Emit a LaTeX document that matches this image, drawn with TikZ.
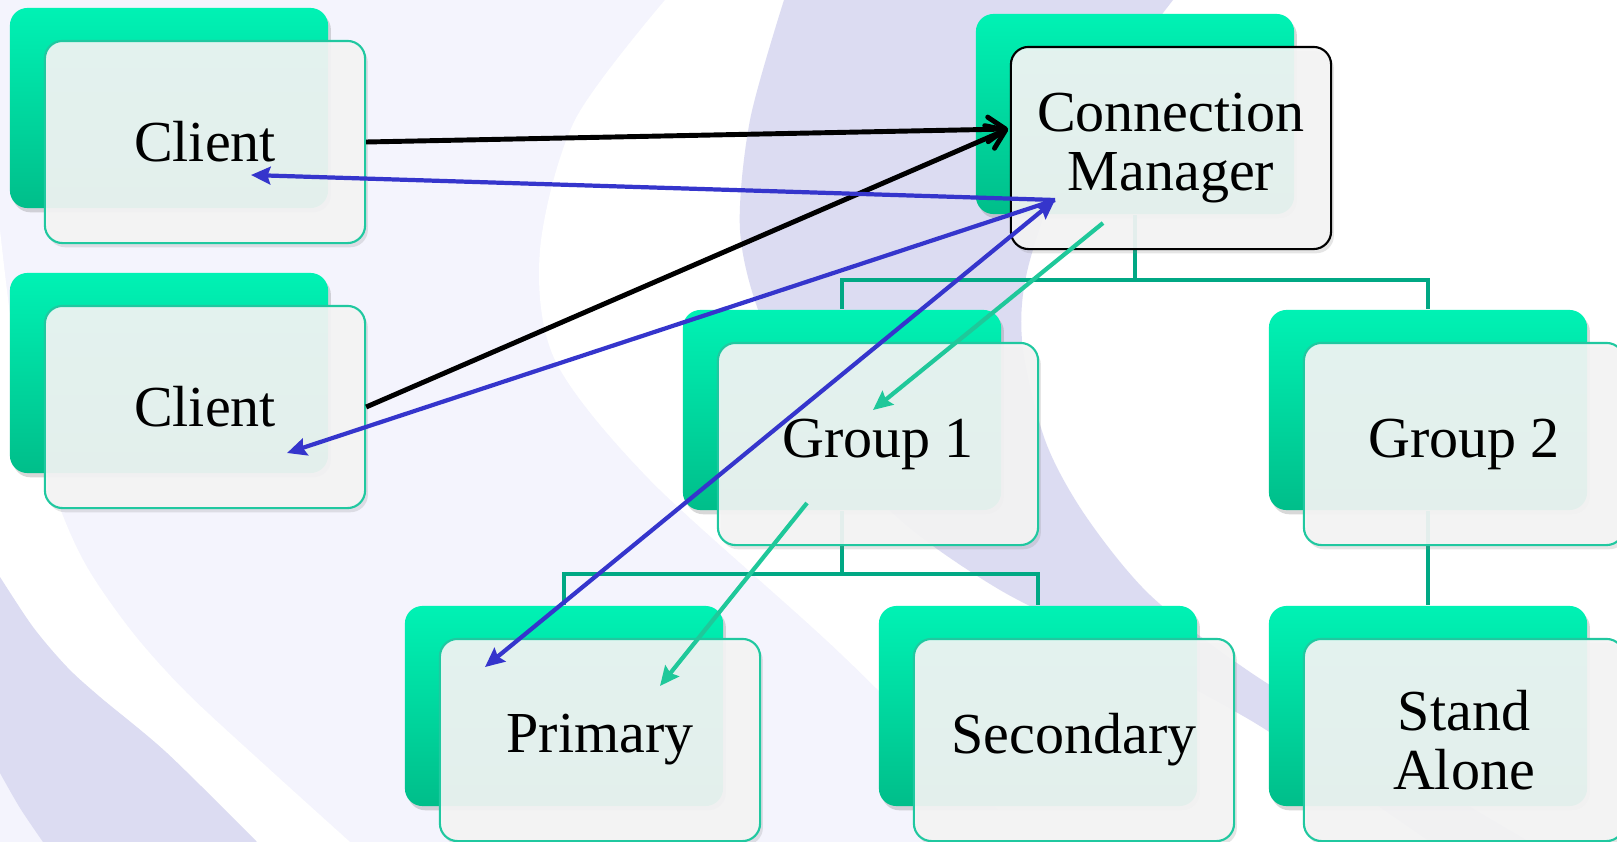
\documentclass[tikz,border=0pt]{standalone}
\usepackage{fontspec}
\setmainfont{Liberation Serif}
\usetikzlibrary{arrows.meta,shadows}

\definecolor{bglight}{HTML}{F4F4FD}
\definecolor{bgdark}{HTML}{DCDCF2}
\definecolor{mintTop}{HTML}{00F2B4}
\definecolor{mintBot}{HTML}{00BE8A}
\definecolor{cardfill}{HTML}{F5F5F5}
\definecolor{cardedge}{HTML}{20C8A0}
\definecolor{treecol}{HTML}{00A884}
\definecolor{arrblue}{HTML}{3535CC}
\definecolor{arrgreen}{HTML}{1FC89A}

\tikzset{
  cardback/.style={rounded corners=5pt, minimum width=3.18cm, minimum height=2.0cm,
    top color=mintTop, bottom color=mintBot, draw=none,
    drop shadow={shadow xshift=0.8pt, shadow yshift=-1.2pt, opacity=0.3}},
  card/.style={rounded corners=5pt, minimum width=3.2cm, minimum height=2.02cm,
    draw=cardedge, line width=0.6pt, fill=cardfill, fill opacity=0.92, text opacity=1,
    align=center, font=\fontsize{16.5}{16.8}\selectfont,
    drop shadow={shadow xshift=0.8pt, shadow yshift=-1.2pt, opacity=0.2}},
  treeline/.style={draw=treecol, line width=1.1pt},
  blkarr/.style={line width=1.4pt, -{Straight Barb[length=5pt,width=7pt,round]}},
  bluarr/.style={draw=arrblue, line width=1.2pt, -{Stealth[length=5.5pt,width=5pt,inset=0.8pt]}},
  grnarr/.style={draw=arrgreen, line width=1.2pt, -{Stealth[length=5.5pt,width=5pt,inset=0.8pt]}}
}

\begin{document}
\begin{tikzpicture}[x=0.01cm, y=-0.01cm]
  \useasboundingbox (0,0) rectangle (1617,842);
  % background swooshes
  \fill[bglight] (0,0) rectangle (1617,842);
  \fill[white] plot[smooth] coordinates {(665,0) (575,120) (540,250) (555,360) (650,480) (840,653) (1030,842)}
    -- (1617,842) -- (1617,0) -- cycle;
  \fill[bgdark] plot[smooth] coordinates {(784,0) (750,120) (740,230) (762,320) (820,430) (900,520) (1000,590) (1120,650) (1250,720) (1340,780) (1430,842)}
    -- plot[smooth] coordinates {(1530,842) (1400,765) (1250,672) (1150,595) (1085,515) (1045,440) (1022,340) (1030,260) (1080,130) (1173,0)} -- cycle;
  \fill[white] plot[smooth] coordinates {(0,230) (20,380) (57,500) (87,567) (133,633) (187,693) (267,767) (350,842)}
    -- plot[smooth] coordinates {(257,842) (167,753) (100,697) (67,667) (33,627) (0,577)} -- cycle;
  \fill[bgdark] plot[smooth] coordinates {(0,577) (33,627) (67,667) (100,697) (167,753) (257,842)}
    -- plot[smooth] coordinates {(43,842) (20,808) (0,773)} -- cycle;

  % green backs
  \node[cardback] (cl1b) at (169,108) {};
  \node[cardback] (cl2b) at (169,373) {};
  \node[cardback] (cmb) at (1135,114) {};
  \node[cardback] (g1b) at (842,410) {};
  \node[cardback] (g2b) at (1428,410) {};
  \node[cardback] (prib) at (564,706) {};
  \node[cardback] (secb) at (1038,706) {};
  \node[cardback] (sab) at (1428,706) {};

  % hierarchy
  \draw[treeline] (cmb.south) -- ++(0,65) coordinate (cmj) -| (g1b.north);
  \draw[treeline] (cmj) -| (g2b.north);
  \draw[treeline] (g1b.south) -- ++(0,63) coordinate (g1j) -| (prib.north);
  \draw[treeline] (g1j) -| (secb.north);
  \draw[treeline] (g2b.south) -- (sab.north);

  % cards
  \node[card] (cl1) at (205,142) {Client};
  \node[card] (cl2) at (205,407) {Client};
  \node[card, draw=black] (cm) at (1171,148) {Connection\\Manager};
  \node[card] (g1) at (878,444) {Group 1};
  \node[card] (g2) at (1464,444) {Group 2};
  \node[card] (pri) at (600,740) {Primary};
  \node[card] (sec) at (1074,740) {Secondary};
  \node[card] (sa) at (1464,740) {Stand\\Alone};

  % arrow ends
  \coordinate (cmin) at (1008,129);
  \coordinate (cmhub) at (1055,200);
  \coordinate (cl1tip) at (251,175);
  \coordinate (cl2tip) at (287,453);
  \coordinate (pritip) at (485,667);
  \coordinate (cmsrc) at (1103,223);
  \coordinate (g1tip) at (873,410);
  \coordinate (g1src) at (807,503);
  \coordinate (pritip2) at (660,686);

  \draw[blkarr] (cl1.east) -- (cmin);
  \draw[blkarr] (cl2.east) -- (cmin);
  \draw[bluarr] (cmhub) -- (cl1tip);
  \draw[bluarr] (cmhub) -- (cl2tip);
  \draw[bluarr, {Stealth[length=5.5pt,width=5pt,inset=0.8pt]}-{Stealth[length=5.5pt,width=5pt,inset=0.8pt]}] (cmhub) -- (pritip);
  \draw[grnarr] (cmsrc) -- (g1tip);
  \draw[grnarr] (g1src) -- (pritip2);
\end{tikzpicture}
\end{document}
